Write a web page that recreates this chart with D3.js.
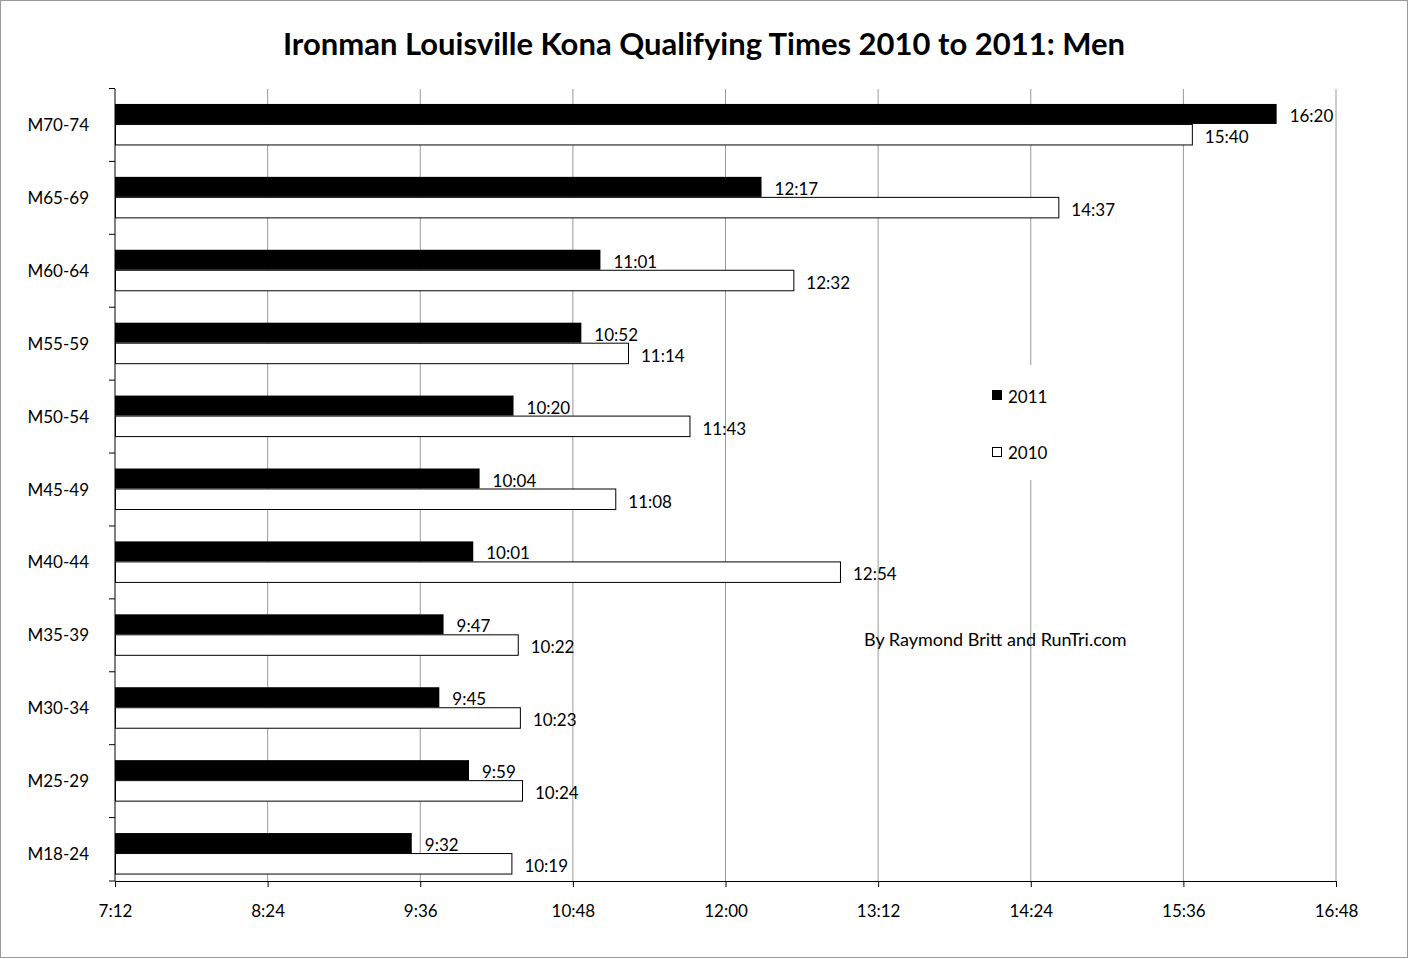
<!DOCTYPE html>
<html><head><meta charset="utf-8">
<script src="https://cdn.jsdelivr.net/npm/d3@7"></script>
<style>body{margin:0;background:#fff}text{font-family:Lato,"Open Sans",sans-serif}</style>
</head><body><svg id="c" width="1409" height="959"></svg>
<script>
const categories=["M70-74","M65-69","M60-64","M55-59","M50-54","M45-49","M40-44","M35-39","M30-34","M25-29","M18-24"];
const s2011=[980,737,661,652,620,604,601,587,585,599,572];
const s2010=[940,877,752,674,703,668,774,622,623,624,619];
const ticks=[432,504,576,648,720,792,864,936,1008];
const fmt=m=>Math.floor(m/60)+":"+String(m%60).padStart(2,"0");
const svg=d3.select("#c");
svg.append("rect").attr("x",0.5).attr("y",0.5).attr("width",1407).attr("height",957).attr("fill","#fff").attr("stroke","#999");
const x=d3.scaleLinear().domain([432,1008]).range([115,1336]);
const y=d3.scaleBand().domain(categories).range([88.5,890.5]);
const plotTop=89,plotBot=881;
ticks.slice(1).forEach(t=>svg.append("line").attr("x1",x(t)).attr("x2",x(t)).attr("y1",plotTop).attr("y2",plotBot).attr("stroke","#999"));
svg.append("line").attr("x1",115).attr("x2",115).attr("y1",plotTop).attr("y2",plotBot).attr("stroke","#000");
const ax=svg.append("g").attr("transform",`translate(0,${plotBot})`).call(d3.axisBottom(x).tickValues(ticks).tickFormat(fmt).tickSize(6).tickSizeOuter(0));
ax.selectAll("text").attr("font-size",17).attr("dy","1.6em").attr("font-family","Lato");
ax.select(".domain").attr("stroke","#000");
categories.forEach(c=>svg.append("line").attr("x1",109).attr("x2",115).attr("y1",y(c)).attr("y2",y(c)).attr("stroke","#000"));
svg.append("line").attr("x1",109).attr("x2",115).attr("y1",plotBot).attr("y2",plotBot).attr("stroke","#000");
svg.selectAll(".cl").data(categories).join("text").attr("x",89).attr("y",c=>y(c)+y.bandwidth()/2+6).attr("text-anchor","end").attr("font-size",17).text(c=>c);
categories.forEach((c,i)=>{
 const cy=y(c)+y.bandwidth()/2;
 svg.append("rect").attr("x",115).attr("y",cy-21).attr("width",x(s2011[i])-115).attr("height",20).attr("fill","#000");
 svg.append("rect").attr("x",115.5).attr("y",cy-0.5).attr("width",x(s2010[i])-115).attr("height",20.5).attr("fill","#fff").attr("stroke","#000");
 svg.append("text").attr("x",x(s2011[i])+13).attr("y",cy-3).attr("font-size",17).text(fmt(s2011[i]));
 svg.append("text").attr("x",x(s2010[i])+13).attr("y",cy+18).attr("font-size",17).text(fmt(s2010[i]));
});
svg.append("rect").attr("x",985).attr("y",365).attr("width",75).attr("height",115).attr("fill","#fff");
svg.append("rect").attr("x",992).attr("y",390).attr("width",10).attr("height",10).attr("fill","#000");
svg.append("text").attr("x",1008).attr("y",403).attr("font-size",17).text("2011");
svg.append("rect").attr("x",992.5).attr("y",447.5).attr("width",9).attr("height",9).attr("fill","#fff").attr("stroke","#000");
svg.append("text").attr("x",1008).attr("y",459).attr("font-size",17).text("2010");
svg.append("text").attr("x",864).attr("y",646).attr("font-size",18).text("By Raymond Britt and RunTri.com");
svg.append("text").attr("x",704).attr("y",55).attr("text-anchor","middle").attr("font-size",31).attr("font-weight","bold").text("Ironman Louisville Kona Qualifying Times 2010 to 2011: Men");
</script></body></html>
